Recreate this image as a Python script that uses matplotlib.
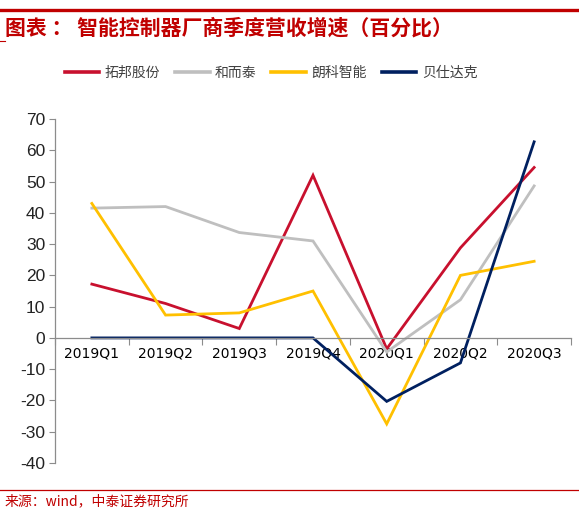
import matplotlib
matplotlib.use("Agg")
import matplotlib.pyplot as plt
from matplotlib.lines import Line2D

# quarterly revenue growth, %
quarters = ["2019Q1", "2019Q2", "2019Q3", "2019Q4", "2020Q1", "2020Q2", "2020Q3"]
topband = [17.2, 11.0, 3.0, 52.0, -3.5, 28.8, 54.5]
hetai = [41.5, 42.0, 33.7, 31.0, -4.5, 12.2, 48.6]
longsys = [43.0, 7.3, 8.0, 15.0, -27.5, 20.0, 24.5]
bestec = [0.0, 0.0, 0.0, 0.0, -20.3, -8.0, 62.7]

series_names = ["拓邦股份", "和而泰", "朗科智能", "贝仕达克"]
series_colors = ["#C8102E", "#BFBFBF", "#FFC000", "#002060"]

CJK = ["Noto Sans CJK SC", "DejaVu Sans"]
NUM = ["Liberation Sans", "DejaVu Sans"]
RED = "#C00000"
GRAY = "#8C8C8C"

fig = plt.figure(figsize=(5.79, 5.19), dpi=100)

# header / footer decorations
fig.add_artist(Line2D([0, 1], [1 - 9.5 / 519] * 2, color=RED, lw=2.4))
fig.add_artist(Line2D([0, 5 / 579], [1 - 41 / 519] * 2, color=RED, lw=0.8))
fig.add_artist(Line2D([0, 1], [1 - 490 / 519] * 2, color=RED, lw=0.9))
fig.text(5 / 579, 1 - 28 / 519, "图表 ： 智能控制器厂商季度营收增速（百分比）",
         family=CJK, fontsize=15, fontweight="bold", color=RED,
         style="italic", va="center", ha="left")
fig.text(5 / 579, 1 - 501 / 519, "来源：wind，中泰证券研究所",
         family=CJK, fontsize=10, color=RED, va="center", ha="left")

ax = fig.add_axes([55 / 579, 1 - 463 / 519, 516 / 579, 344 / 519])
x = list(range(len(quarters)))
values = [topband, hetai, longsys, bestec]
for vals, name, col in zip(values, series_names, series_colors):
    ax.plot(x, vals, color=col, lw=2.0, label=name, solid_joinstyle="miter")

ax.set_xlim(-0.5, len(quarters) - 0.5)
ax.set_ylim(-40, 70)
ax.set_yticks(range(-40, 71, 10))
ax.set_yticklabels([str(v) for v in range(-40, 71, 10)], family=NUM, fontsize=12.5, color="#222222")

ax.set_xticks(x)
ax.set_xticklabels(quarters, family=NUM, fontsize=11.5, color="#222222")
ax.set_xticks([i - 0.5 for i in range(len(quarters) + 1)], minor=True)
ax.tick_params(axis="x", which="major", length=0, pad=6)
ax.tick_params(axis="x", which="minor", length=5, direction="out", color=GRAY, width=0.8)
ax.tick_params(axis="y", length=4, direction="out", color=GRAY, width=0.8, pad=3)

for side in ("top", "right"):
    ax.spines[side].set_visible(False)
ax.spines["bottom"].set_position(("data", 0))
ax.spines["bottom"].set_color(GRAY)
ax.spines["left"].set_color(GRAY)
ax.spines["bottom"].set_linewidth(0.9)
ax.spines["left"].set_linewidth(0.9)

leg = fig.legend(*ax.get_legend_handles_labels(), loc="center",
                 bbox_to_anchor=(271 / 579, 1 - 73 / 519),
                 ncol=4, frameon=False, prop={"family": CJK, "size": 10},
                 handlelength=2.5, handletextpad=0.4, columnspacing=1.05)
for t in leg.get_texts():
    t.set_color("#404040")
for h in leg.legend_handles:
    h.set_linewidth(2.6)

fig.savefig("out.png", dpi=100)
